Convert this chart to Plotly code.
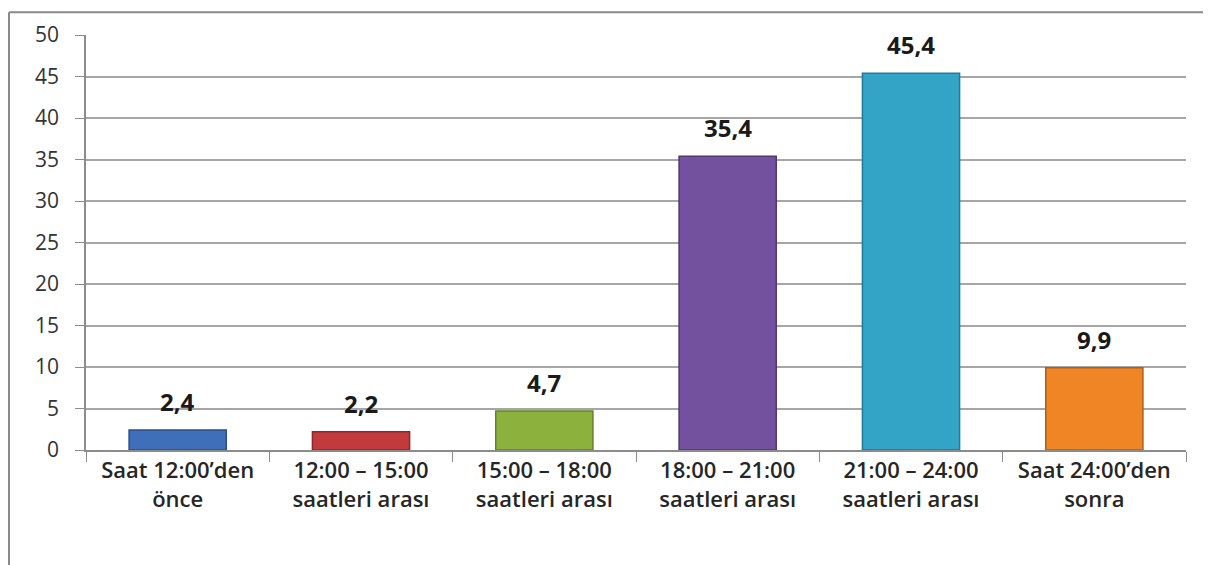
import plotly.graph_objects as go

categories = [
    "Saat 12:00’den<br>önce",
    "12:00 – 15:00<br>saatleri arası",
    "15:00 – 18:00<br>saatleri arası",
    "18:00 – 21:00<br>saatleri arası",
    "21:00 – 24:00<br>saatleri arası",
    "Saat 24:00’den<br>sonra",
]
values = [2.4, 2.2, 4.7, 35.4, 45.4, 9.9]
bar_colors = ["#3E6FB8", "#C23A3C", "#8CB13C", "#73519F", "#33A3C6", "#EF8525"]
edge_colors = ["#2B5088", "#8E2729", "#64822A", "#4F3873", "#217A96", "#B05F16"]

fig = go.Figure()
fig.add_trace(go.Bar(
    x=categories,
    y=values,
    width=0.53,
    marker=dict(color=bar_colors, line=dict(color=edge_colors, width=1.5)),
    hoverinfo="x+y",
))

# value labels above the bars
for cat, val in zip(categories, values):
    fig.add_annotation(
        x=cat, y=val, text=f"{val:.1f}".replace(".", ","),
        showarrow=False, yanchor="bottom", yshift=10,
        font=dict(family="Open Sans", size=24, color="#1a1a1a", weight="bold"),
    )

# frame lines around the picture (left and top, as in the original)
fig.add_shape(type="line", xref="paper", yref="paper", x0=-0.0700, x1=-0.0700, y0=-0.3, y1=1.055,
              line=dict(color="#8a8a8a", width=2))
fig.add_shape(type="line", xref="paper", yref="paper", x0=-0.0700, x1=1.03, y0=1.055, y1=1.055,
              line=dict(color="#8a8a8a", width=2))

# page body has an 8px margin, so the figure is sized to fit the window
fig.update_layout(
    width=1203, height=557,
    margin=dict(l=78, r=25, t=24, b=115),
    paper_bgcolor="white", plot_bgcolor="white",
    showlegend=False,
    font=dict(family="Open Sans", color="#333333"),
    xaxis=dict(
        showline=True, linecolor="#8c8c8c", linewidth=1.5,
        ticks="outside", tickson="boundaries", ticklen=10, tickcolor="#8c8c8c",
        tickfont=dict(size=22, color="#262626", weight=600),
    ),
    yaxis=dict(
        range=[0, 50], dtick=5,
        showgrid=True, gridcolor="#a6a6a6", gridwidth=1.5,
        showline=True, linecolor="#8c8c8c", linewidth=1.5,
        ticks="outside", ticklen=9, tickcolor="#8c8c8c",
        ticklabelstandoff=12,
        tickfont=dict(size=21, color="#333333"),
        zeroline=False,
    ),
)

fig.write_html("out.html")
